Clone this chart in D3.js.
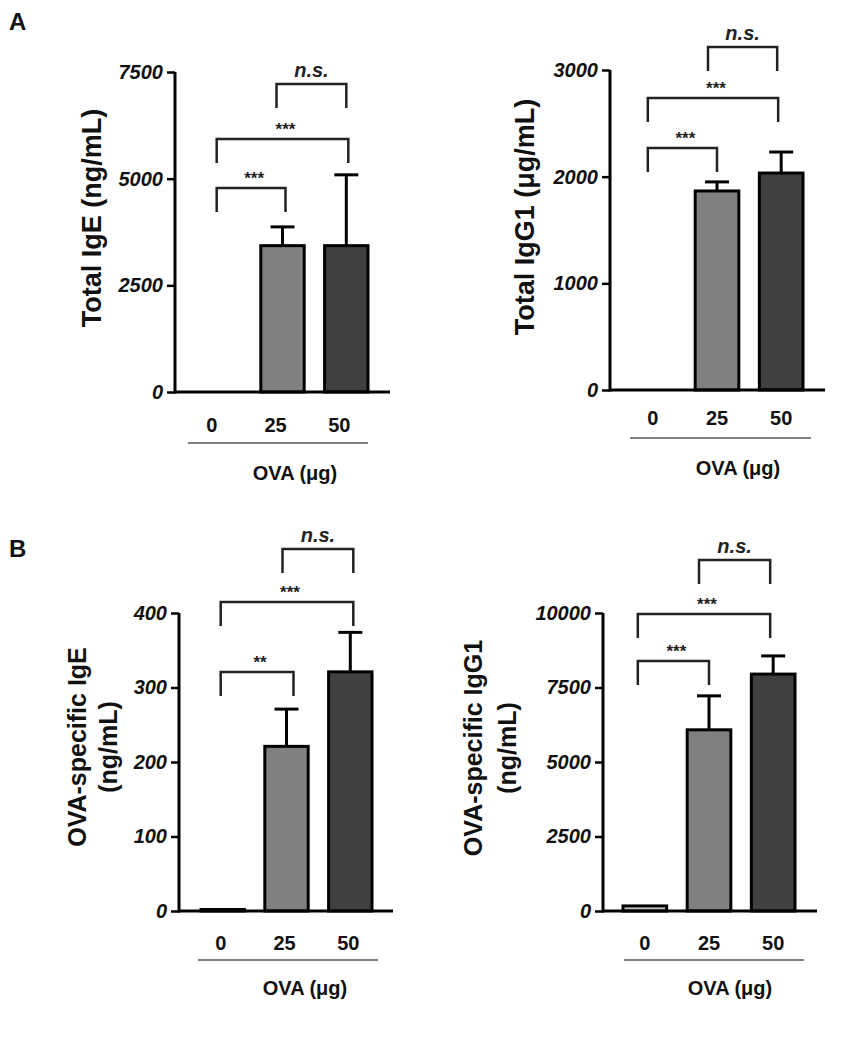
<!DOCTYPE html>
<html>
<head>
<meta charset="utf-8">
<script src="https://cdn.jsdelivr.net/npm/d3@7"></script>
<style>
  html, body { margin: 0; padding: 0; background: #fff; }
  svg { display: block; font-family: "Liberation Sans", Arial, sans-serif; }
</style>
</head>
<body>
<svg id="chart" width="865" height="1061"></svg>
<script>
// ---------------- data ----------------
const categories = ["0", "25", "50"];
const xAxisTitle = "OVA (μg)";

const totalIgEMean = [0, 3430, 3430];
const totalIgESem  = [0, 440, 1660];
const totalIgETicks = [0, 2500, 5000, 7500];
const totalIgESig = ["***", "***", "n.s."];

const totalIgG1Mean = [0, 1866, 2034];
const totalIgG1Sem  = [0, 85, 197];
const totalIgG1Ticks = [0, 1000, 2000, 3000];
const totalIgG1Sig = ["***", "***", "n.s."];

const ovaIgEMean = [2, 221, 321];
const ovaIgESem  = [0, 50, 53];
const ovaIgETicks = [0, 100, 200, 300, 400];
const ovaIgESig = ["**", "***", "n.s."];

const ovaIgG1Mean = [170, 6080, 7950];
const ovaIgG1Sem  = [0, 1140, 610];
const ovaIgG1Ticks = [0, 2500, 5000, 7500, 10000];
const ovaIgG1Sig = ["***", "***", "n.s."];

const comparisons = [[0, 1], [0, 2], [1, 2]];
const barFills = ["#c6c6c6", "#808080", "#404040"];

// ---------------- layout ----------------
const panels = [
  { mean: totalIgEMean, sem: totalIgESem, ticks: totalIgETicks, sig: totalIgESig,
    title: ["Total IgE (ng/mL)"], titleX: [92], titleY: 218, titleSize: 27,
    axisX: 175, y0: 392, yTop: 72, xEnd: 390, band: [197, 368],
    labelY: 425, labelDx: -7, sepY: 443, sep: [188, 368], ovaX: 295, ovaY: 473,
    brackets: [188, 139, 84], bdx: [[-2, 3], [-2, 2], [-6, 0]] },
  { mean: totalIgG1Mean, sem: totalIgG1Sem, ticks: totalIgG1Ticks, sig: totalIgG1Sig,
    title: ["Total IgG1 (μg/mL)"], titleX: [525], titleY: 217, titleSize: 27,
    axisX: 610, y0: 390, yTop: 70, xEnd: 825, band: [631, 803],
    labelY: 418, labelDx: 0, sepY: 438, sep: [630, 811], ovaX: 738, ovaY: 468,
    brackets: [148, 98, 47], bdx: [[-5, 0], [-5, -3], [-9, -4]] },
  { mean: ovaIgEMean, sem: ovaIgESem, ticks: ovaIgETicks, sig: ovaIgESig,
    title: ["OVA-specific IgE", "(ng/mL)"], titleX: [77, 108], titleY: 747, titleSize: 25,
    axisX: 179, y0: 911, yTop: 613, xEnd: 393, band: [201, 372],
    labelY: 943, labelDx: -2, sepY: 960, sep: [198, 378], ovaX: 305, ovaY: 988,
    brackets: [672, 602, 549], bdx: [[-2, 7], [-2, 3], [-4, 3]] },
  { mean: ovaIgG1Mean, sem: ovaIgG1Sem, ticks: ovaIgG1Ticks, sig: ovaIgG1Sig,
    title: ["OVA-specific IgG1", "(ng/mL)"], titleX: [473, 507], titleY: 748, titleSize: 25,
    axisX: 603, y0: 911, yTop: 613, xEnd: 817, band: [623, 795],
    labelY: 943, labelDx: 0, sepY: 960, sep: [624, 804], ovaX: 730, ovaY: 988,
    brackets: [661, 614, 560], bdx: [[-7, 0], [-7, -3], [-10, -3]] }
];

const svg = d3.select("#chart");

// panel letters
svg.append("text").attr("x", 9).attr("y", 30).text("A")
  .attr("font-size", 24).attr("font-weight", "bold").attr("fill", "#111");
svg.append("text").attr("x", 9).attr("y", 557).text("B")
  .attr("font-size", 24).attr("font-weight", "bold").attr("fill", "#111");

panels.forEach(p => {
  const g = svg.append("g");
  const yMax = d3.max(p.ticks);
  const y = d3.scaleLinear().domain([0, yMax]).range([p.y0, p.yTop]);
  const x = d3.scaleBand().domain(categories).range(p.band).paddingInner(0.32).paddingOuter(0);
  const cx = c => x(c) + x.bandwidth() / 2;

  // bars
  g.selectAll("rect.bar").data(categories).join("rect")
    .attr("class", "bar")
    .attr("x", c => x(c))
    .attr("width", x.bandwidth())
    .attr("y", (c, i) => y(p.mean[i]))
    .attr("height", (c, i) => Math.max(0, p.y0 - y(p.mean[i])))
    .attr("fill", (c, i) => barFills[i])
    .attr("stroke", (c, i) => p.mean[i] > 0 ? "#000" : "none")
    .attr("stroke-width", 3);

  // error bars (upper only)
  const errData = categories.map((c, i) => ({ c, m: p.mean[i], s: p.sem[i] })).filter(d => d.s > 0);
  g.selectAll("line.err").data(errData).join("line")
    .attr("x1", d => cx(d.c)).attr("x2", d => cx(d.c))
    .attr("y1", d => y(d.m)).attr("y2", d => y(d.m + d.s))
    .attr("stroke", "#000").attr("stroke-width", 3);
  g.selectAll("line.cap").data(errData).join("line")
    .attr("x1", d => cx(d.c) - 12).attr("x2", d => cx(d.c) + 12)
    .attr("y1", d => y(d.m + d.s)).attr("y2", d => y(d.m + d.s))
    .attr("stroke", "#000").attr("stroke-width", 3);

  // x baseline
  g.append("line")
    .attr("x1", p.axisX).attr("x2", p.xEnd)
    .attr("y1", p.y0).attr("y2", p.y0)
    .attr("stroke", "#000").attr("stroke-width", 3);

  // y axis
  const ya = g.append("g").attr("transform", `translate(${p.axisX},0)`)
    .call(d3.axisLeft(y).tickValues(p.ticks).tickFormat(d3.format("d"))
      .tickSize(8).tickSizeOuter(0).tickPadding(4));
  ya.select(".domain").attr("stroke", "#000").attr("stroke-width", 3)
    .attr("d", `M0,${p.y0 + 1.5}V${p.yTop}`);
  ya.selectAll(".tick line").attr("stroke", "#000").attr("stroke-width", 2.5);
  ya.selectAll(".tick text")
    .attr("font-size", 20).attr("font-weight", "bold").attr("font-style", "italic")
    .attr("font-family", "'Liberation Sans', Arial, sans-serif")
    .attr("fill", "#111");

  // category labels
  const xa = g.append("g").attr("transform", `translate(${p.labelDx},${p.labelY})`)
    .call(d3.axisBottom(x).tickSize(0).tickPadding(0));
  xa.select(".domain").remove();
  xa.selectAll(".tick text")
    .attr("dy", "0.35em")
    .attr("font-size", 20).attr("font-weight", "bold")
    .attr("font-family", "'Liberation Sans', Arial, sans-serif")
    .attr("fill", "#111");

  // separator line and x title
  g.append("line")
    .attr("x1", p.sep[0]).attr("x2", p.sep[1])
    .attr("y1", p.sepY).attr("y2", p.sepY)
    .attr("stroke", "#555").attr("stroke-width", 1.5);
  g.append("text").attr("x", p.ovaX).attr("y", p.ovaY).attr("dy", "0.35em")
    .attr("text-anchor", "middle").attr("font-size", 20).attr("font-weight", "bold")
    .attr("fill", "#111").text(xAxisTitle);

  // y title
  p.title.forEach((t, k) => {
    g.append("text")
      .attr("transform", `translate(${p.titleX[k]},${p.titleY}) rotate(-90)`)
      .attr("text-anchor", "middle").attr("dy", "0.35em")
      .attr("font-size", p.titleSize).attr("font-weight", "bold")
      .attr("fill", "#111").text(t);
  });

  // significance brackets
  comparisons.forEach(([a, b], k) => {
    const by = p.brackets[k];
    const xa1 = cx(categories[a]) + p.bdx[k][0];
    const xb1 = cx(categories[b]) + p.bdx[k][1];
    g.append("path")
      .attr("d", `M${xa1},${by + 24}V${by}H${xb1}V${by + 24}`)
      .attr("fill", "none").attr("stroke", "#222").attr("stroke-width", 2.5);
    const isNS = p.sig[k] === "n.s.";
    g.append("text")
      .attr("x", (xa1 + xb1) / 2 + (isNS ? 0 : 3))
      .attr("y", isNS ? by - 7 : by - 4)
      .attr("text-anchor", "middle")
      .attr("font-size", isNS ? 20 : 17)
      .attr("font-weight", "bold")
      .attr("font-style", isNS ? "italic" : "normal")
      .attr("fill", "#222")
      .text(p.sig[k]);
  });
});
</script>
</body>
</html>
